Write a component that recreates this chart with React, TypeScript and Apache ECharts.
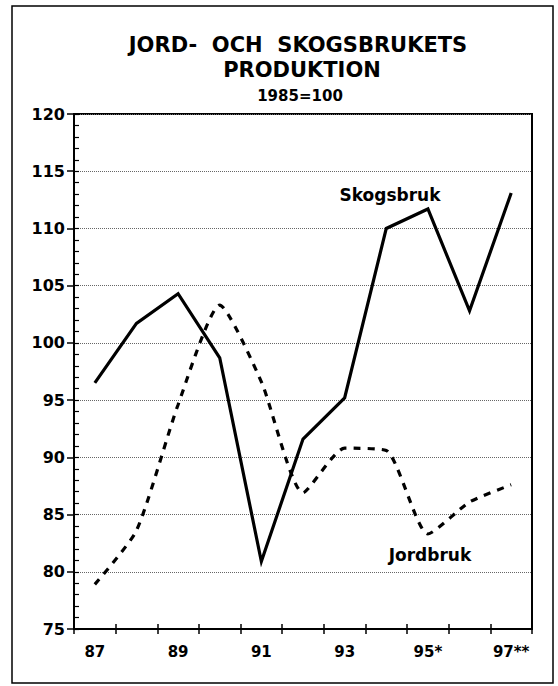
import React, { useEffect, useRef } from "react";
import * as echarts from "echarts";

const years = ["87", "88", "89", "90", "91", "92", "93", "94", "95*", "96", "97**"];
const skogsbruk = [96.5, 101.7, 104.3, 98.7, 80.9, 91.6, 95.2, 110.0, 111.7, 102.8, 113.1];
const jordbruk = [78.9, 83.6, 94.6, 103.3, 96.6, 86.9, 90.8, 90.6, 83.3, 86.1, 87.6];
const yTicks = { min: 75, max: 120, interval: 5 };
const titleLines = ["JORD-  OCH  SKOGSBRUKETS", "PRODUKTION"];
const subtitle = "1985=100";

const FONT = "DejaVu Sans";

export default function App() {
  const ref = useRef<HTMLDivElement>(null);
  useEffect(() => {
    if (!ref.current) return;
    const chart = echarts.init(ref.current, undefined, { renderer: "svg" });
    const gridL = 74, gridT = 114, gridW = 458, gridH = 515;
    const labelStyle = { fontSize: 15, fontWeight: "bold" as const, fontFamily: FONT, color: "#000" };
    chart.setOption({
      animation: false,
      backgroundColor: "#fff",
      grid: {
        left: gridL, top: gridT, width: gridW, height: gridH,
        show: true, borderColor: "#000", borderWidth: 2, backgroundColor: "transparent",
      },
      xAxis: [
        {
          type: "category", data: years, boundaryGap: true, position: "bottom",
          axisLine: { show: true, lineStyle: { color: "#000", width: 2 } },
          axisTick: { show: true, interval: 0, length: 5, lineStyle: { color: "#000", width: 1.5 } },
          axisLabel: { ...labelStyle, interval: 1, margin: 15 },
          splitLine: { show: false },
        },
        {
          type: "category", data: years, boundaryGap: true, position: "top", offset: -gridH,
          axisLine: { show: false },
          axisTick: { show: true, interval: 0, length: 5, lineStyle: { color: "#000", width: 1.5 } },
          axisLabel: { show: false },
          splitLine: { show: false },
        },
      ],
      yAxis: [
        {
          type: "value", min: yTicks.min, max: yTicks.max, interval: yTicks.interval,
          axisLine: { show: true, lineStyle: { color: "#000", width: 2 } },
          axisTick: { show: true, length: 7, lineStyle: { color: "#000", width: 1.5 } },
          axisLabel: { ...labelStyle, fontSize: 16, margin: 9 },
          splitLine: { show: true, lineStyle: { type: "dotted", color: "#666", width: 1 } },
        },
        {
          type: "value", min: yTicks.min, max: yTicks.max, interval: 1, position: "right", offset: -gridW,
          axisLine: { show: false },
          axisTick: { show: true, length: 5, lineStyle: { color: "#000", width: 1.2 } },
          axisLabel: { show: false },
          splitLine: { show: false },
        },
      ],
      series: [
        {
          name: "Skogsbruk", type: "line", data: skogsbruk, xAxisIndex: 0, yAxisIndex: 0,
          symbol: "none", z: 4,
          lineStyle: { color: "#000", width: 3.2, join: "miter" },
        },
        {
          name: "Jordbruk", type: "line", data: jordbruk, xAxisIndex: 0, yAxisIndex: 0,
          symbol: "none", smooth: 0.2, z: 3,
          lineStyle: { color: "#000", width: 3.2, type: [7, 7] },
        },
      ],
      graphic: [
        {
          type: "rect", shape: { x: 12, y: 6, width: 541, height: 677 },
          style: { fill: "none", stroke: "#000", lineWidth: 1.5 }, silent: true,
        },
        {
          type: "text", x: 298, y: 45,
          style: { text: titleLines[0], fontSize: 21, fontWeight: "bold", fontFamily: FONT, fill: "#000", align: "center", verticalAlign: "middle" },
        },
        {
          type: "text", x: 302, y: 70,
          style: { text: titleLines[1], fontSize: 21, fontWeight: "bold", fontFamily: FONT, fill: "#000", align: "center", verticalAlign: "middle" },
        },
        {
          type: "text", x: 300, y: 96,
          style: { text: subtitle, fontSize: 15, fontWeight: "bold", fontFamily: FONT, fill: "#000", align: "center", verticalAlign: "middle" },
        },
        {
          type: "text", x: 390, y: 195,
          style: { text: "Skogsbruk", fontSize: 17, fontWeight: "bold", fontFamily: FONT, fill: "#000", align: "center", verticalAlign: "middle" },
        },
        {
          type: "text", x: 430, y: 555,
          style: { text: "Jordbruk", fontSize: 17, fontWeight: "bold", fontFamily: FONT, fill: "#000", align: "center", verticalAlign: "middle" },
        },
      ],
    });
    return () => chart.dispose();
  }, []);
  return (
    <div
      ref={ref}
      style={{ position: "absolute", left: 0, top: 0, width: 558, height: 686 }}
    />
  );
}
